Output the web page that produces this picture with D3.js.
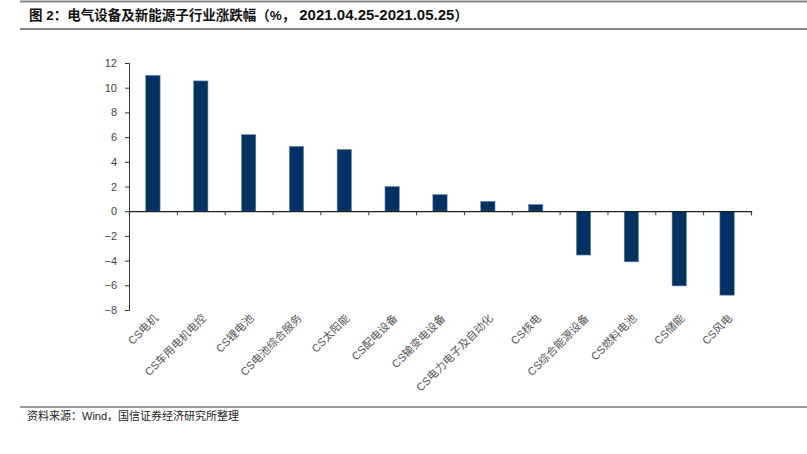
<!DOCTYPE html>
<html><head><meta charset="utf-8">
<script src="https://cdn.jsdelivr.net/npm/d3@7"></script>
<style>body{margin:0;background:#fff}svg{display:block}</style>
</head><body>
<svg id="c" width="807" height="454"></svg>
<script>
const titleMain = "图 2：电气设备及新能源子行业涨跌幅（%，";
const titleDates = "2021.04.25-2021.05.25";
const titleEnd = "）";
const sourceText = "资料来源：Wind，国信证券经济研究所整理";
const categories = ["CS电机","CS车用电机电控","CS锂电池","CS电池综合服务","CS太阳能","CS配电设备","CS输变电设备","CS电力电子及自动化","CS核电","CS综合能源设备","CS燃料电池","CS储能","CS风电"];
const values = [11.0, 10.55, 6.2, 5.25, 5.0, 2.0, 1.35, 0.8, 0.55, -3.55, -4.1, -6.05, -6.8];
const yTicks = [12,10,8,6,4,2,0,-2,-4,-6,-8];

(function(){
const svg = d3.select("#c");
const font = "'Liberation Sans', Arial, 'Noto Sans CJK SC', sans-serif";

// title frame
svg.append("line").attr("x1",20).attr("x2",807).attr("y1",1.5).attr("y2",1.5).attr("stroke","#888").attr("stroke-width",2);
svg.append("line").attr("x1",20).attr("x2",807).attr("y1",29).attr("y2",29).attr("stroke","#888").attr("stroke-width",2);
const tt = svg.append("text").attr("x",29).attr("y",20).attr("font-family",font).attr("font-weight","bold").attr("fill","#111");
tt.append("tspan").attr("font-size",13.5).text(titleMain);
tt.append("tspan").attr("font-size",15).attr("dx",4).text(titleDates);
tt.append("tspan").attr("font-size",13.5).text(titleEnd);

// footer
svg.append("line").attr("x1",20).attr("x2",807).attr("y1",407).attr("y2",407).attr("stroke","#333").attr("stroke-width",1);
svg.append("text").attr("x",27).attr("y",420).attr("font-family",font).attr("font-size",11).attr("fill","#222").text(sourceText);

const L = 129, R = 751, T = 63, B = 310;
const x = d3.scaleBand().domain(categories).range([L,R]).paddingInner(0.7).paddingOuter(0.35);
const y = d3.scaleLinear().domain([-8,12]).range([B,T]);

// y axis
const ya = svg.append("g").attr("transform",`translate(${L},0)`)
  .call(d3.axisLeft(y).tickValues(yTicks).tickSize(4).tickPadding(8));
ya.select(".domain").attr("stroke","#333");
ya.selectAll(".tick line").attr("stroke","#333");
ya.selectAll("text").attr("font-family",font).attr("font-size",11).attr("fill","#444");

// bars
svg.append("g").selectAll("rect").data(categories).join("rect")
  .attr("x",d=>x(d))
  .attr("width",x.bandwidth())
  .attr("y",(d,i)=>y(Math.max(0,values[i])))
  .attr("height",(d,i)=>Math.abs(y(values[i])-y(0)))
  .attr("fill","#003263").attr("stroke","#6f8fb3").attr("stroke-width",0.6);

// x axis at zero with boundary ticks
const xb = d3.scaleLinear().domain([0,categories.length]).range([L,R]);
const xa = svg.append("g").attr("transform",`translate(0,${y(0)})`)
  .call(d3.axisBottom(xb).tickValues(d3.range(0,categories.length+1)).tickSize(4).tickFormat(""));
xa.select(".domain").attr("stroke","#222").attr("stroke-width",1.2);
xa.selectAll(".tick line").attr("stroke","#333");

// category labels rotated
svg.append("g").selectAll("text").data(categories).join("text")
  .attr("transform",d=>`translate(${x(d)+x.bandwidth()/2+6},${B+9}) rotate(-45)`)
  .attr("text-anchor","end")
  .attr("font-family",font).attr("font-size",11).attr("fill","#555")
  .text(d=>d);
})();
</script>
</body></html>
